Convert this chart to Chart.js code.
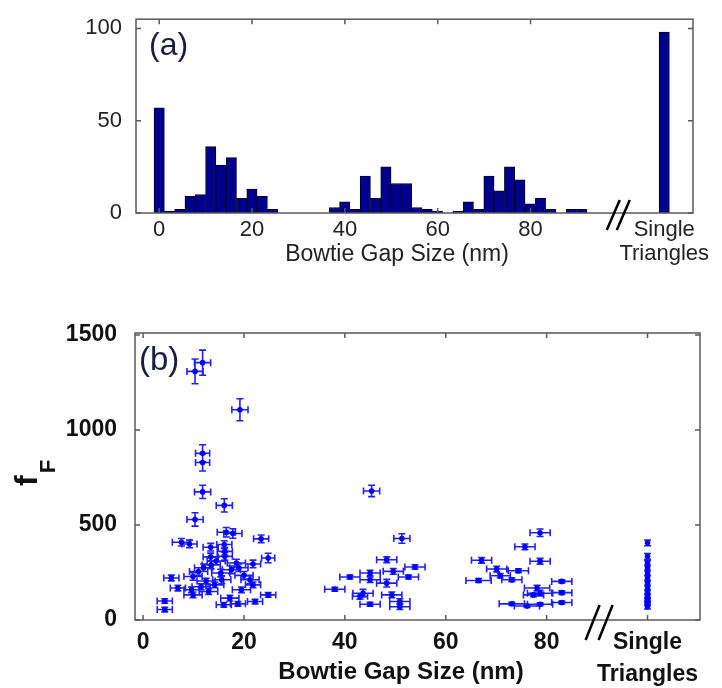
<!DOCTYPE html>
<html>
<head>
<meta charset="utf-8">
<script src="https://cdn.jsdelivr.net/npm/chart.js@4.4.1/dist/chart.umd.min.js"></script>
<style>
    html, body { margin: 0; padding: 0; background: #fff; }
    #wrap { width: 722px; height: 688px; position: relative; }
    canvas { position: absolute; left: 0; }
</style>
</head>
<body>
<div id="wrap">
    <canvas id="histChart" width="722" height="290" style="top:0"></canvas>
    <canvas id="ffChart" width="722" height="398" style="top:290px"></canvas>
</div>
<script>
// (a) histogram of bowtie gap sizes
const binCenters = [0, 2.22, 4.44, 6.66, 8.88, 11.1, 13.32, 15.54, 17.76, 19.98, 22.2, 24.42,
    37.74, 39.96, 42.18, 44.4, 46.62, 48.84, 51.06, 53.28, 55.5, 57.72, 59.94,
    64.38, 66.6, 68.82, 71.04, 73.26, 75.48, 77.7, 79.92, 82.14, 84.36,
    88.8, 91.02, 108.8];
const binCounts = [57, 1, 2, 9, 10, 36, 26, 30, 8, 13, 9, 2,
    3, 6, 2, 20, 8, 25, 16, 16, 3, 2, 1,
    1, 6, 2, 20, 12, 25, 18, 5, 8, 2,
    2, 2, 98];
const histGapTicks = [0, 20, 40, 60, 80, 108.8];
const histCountTicks = [0, 50, 100];

// (b) enhancement factor vs gap size, with error bars
const gapNm = [10.3, 11.8, 19.2, 11.8, 11.8, 11.8, 16.1, 10.3, 16.5, 17.8, 23.4, 7.6, 9.2, 16.1, 13.4, 16.2,
    13.4, 16.2, 24.8, 21.8, 5.6, 9.9, 15.4, 17.5, 15.6, 21.2, 21.8, 6.9, 9.6, 9.9, 14.2, 17.2,
    19.5, 24.8, 22.2, 18.8, 16.0, 4.3, 4.3, 12.0, 13.5, 11.0, 18.5, 20.0, 12.5, 11.5, 13.0, 19.0, 14.5,
    45.3, 51.3, 48.3, 53.9, 49.6, 45.0, 41.0, 52.6, 45.0, 48.3, 38.0, 43.6, 49.3, 45.0, 50.9, 50.9, 43.0,
    78.7, 75.7, 67.1, 78.7, 70.1, 74.4, 70.8, 73.1, 66.5, 83.0, 78.1, 78.7, 83.0, 73.1, 76.1, 78.7, 83.0, 77.4,
    100, 100, 100, 100, 100, 100, 100, 100, 100, 100, 100, 100, 100];
const gapErr = [1.6, 1.6, 1.6, 1.4, 1.4, 1.6, 1.6, 1.6, 1.8, 1.8, 1.5, 1.8, 1.5, 1.5, 1.5, 1.5,
    1.5, 1.5, 1.3, 1.5, 1.5, 1.8, 1.8, 1.8, 1.8, 1.8, 1.5, 1.5, 1.5, 1.8, 1.8, 1.8,
    1.8, 1.5, 1.5, 1.5, 1.5, 1.5, 1.5, 1.8, 1.8, 1.8, 1.8, 1.8, 1.8, 1.8, 1.8, 1.8, 1.8,
    1.6, 1.6, 2, 2, 2, 2, 2, 2, 2, 2, 2, 2, 2, 2, 2, 2, 1.5,
    2, 2, 2, 2, 2, 2, 2, 2, 2.5, 2, 2.5, 2.5, 2, 2.5, 2.5, 2.5, 2, 2,
    0, 0, 0, 0, 0, 0, 0, 0, 0, 0, 0, 0, 0];
const fF = [1308, 1354, 1106, 877, 829, 674, 603, 529, 462, 455, 427, 409, 400, 397, 383, 361,
    332, 335, 326, 295, 221, 229, 247, 264, 212, 212, 185, 168, 159, 132, 185, 115,
    159, 132, 97, 85, 80, 100, 55, 275, 290, 255, 300, 235, 205, 175, 150, 275, 310,
    679, 429, 317, 279, 256, 247, 226, 226, 212, 194, 162, 141, 132, 83, 97, 70, 125,
    459, 385, 314, 309, 268, 259, 233, 212, 208, 203, 168, 141, 144, 85, 74, 83, 92, 132,
    406, 335, 300, 274, 247, 221, 194, 168, 145, 124, 106, 88, 70];
const fFErr = [65, 66, 58, 45, 45, 35, 35, 35, 25, 25, 20, 20, 20, 20, 20, 20,
    20, 20, 25, 20, 15, 20, 20, 20, 20, 20, 15, 15, 15, 15, 15, 15,
    15, 12, 12, 12, 12, 12, 12, 20, 20, 20, 20, 20, 15, 15, 15, 20, 20,
    30, 25, 15, 12, 15, 15, 10, 10, 15, 20, 10, 20, 15, 10, 15, 15, 15,
    20, 15, 15, 15, 15, 10, 12, 10, 10, 8, 15, 15, 10, 8, 8, 8, 8, 10,
    15, 15, 12, 12, 12, 12, 12, 12, 12, 12, 12, 12, 12];
const ffGapTicks = [0, 20, 40, 60, 80, 100];
const ffTicks = [0, 500, 1000, 1500];
const singleLabel = ['Single', 'Triangles'];

const FONT = '"Liberation Sans", Arial, Helvetica, sans-serif';

// box around the plot with inward ticks, the axis break and free text
const frame = {
    id: 'frame',
    afterDraw(chart, args, opts) {
        const { ctx, chartArea: a, scales } = chart;
        ctx.save();
        ctx.strokeStyle = '#5a5a5a';
        ctx.lineWidth = 1.5;
        ctx.strokeRect(a.left, a.top, a.right - a.left, a.bottom - a.top);

        ctx.beginPath();
        scales.x.ticks.forEach(t => {
            if (opts.skipX && opts.skipX.includes(t.value)) return;
            const px = scales.x.getPixelForValue(t.value);
            ctx.moveTo(px, a.bottom); ctx.lineTo(px, a.bottom - 5);
            ctx.moveTo(px, a.top); ctx.lineTo(px, a.top + 5);
        });
        scales.y.ticks.forEach(t => {
            const py = scales.y.getPixelForValue(t.value);
            ctx.moveTo(a.left, py); ctx.lineTo(a.left + 5, py);
            ctx.moveTo(a.right, py); ctx.lineTo(a.right - 5, py);
        });
        ctx.stroke();

        // "//" axis break
        const bx = scales.x.getPixelForValue(opts.breakAt);
        const by = a.bottom + opts.breakDy;
        ctx.strokeStyle = '#000';
        ctx.lineWidth = 2.5;
        ctx.beginPath();
        [-opts.breakGap / 2, opts.breakGap / 2].forEach(dx => {
            ctx.moveTo(bx + dx - opts.breakW / 2, by + opts.breakH / 2);
            ctx.lineTo(bx + dx + opts.breakW / 2, by - opts.breakH / 2);
        });
        ctx.stroke();

        opts.texts.forEach(t => {
            ctx.font = t.font;
            ctx.textAlign = t.align || 'left';
            ctx.textBaseline = t.baseline || 'alphabetic';
            ctx.fillStyle = t.color || '#111';
            ctx.fillText(t.text, t.x, t.y);
        });
        if (opts.yTitle) {
            const yt = opts.yTitle;
            ctx.translate(yt.x, yt.y);
            ctx.rotate(-Math.PI / 2);
            ctx.textAlign = 'left';
            ctx.textBaseline = 'alphabetic';
            ctx.fillStyle = '#111';
            ctx.font = 'bold 32px ' + FONT;
            ctx.fillText('f', 0, 0);
            const w = ctx.measureText('f').width;
            ctx.font = 'bold 22px ' + FONT;
            ctx.fillText('F', w + 2, 18);
        }
        ctx.restore();
    }
};

const errorBars = {
    id: 'errorBars',
    beforeDatasetsDraw(chart) {
        const { ctx, scales: { x, y } } = chart;
        const cap = 3.5;
        ctx.save();
        ctx.strokeStyle = '#2020ff';
        ctx.lineWidth = 1.6;
        ctx.beginPath();
        gapNm.forEach((g, i) => {
            const px = x.getPixelForValue(g);
            const py = y.getPixelForValue(fF[i]);
            const x0 = x.getPixelForValue(g - gapErr[i]);
            const x1 = x.getPixelForValue(g + gapErr[i]);
            const y0 = y.getPixelForValue(fF[i] - fFErr[i]);
            const y1 = y.getPixelForValue(fF[i] + fFErr[i]);
            if (gapErr[i] > 0) {
                ctx.moveTo(x0, py); ctx.lineTo(x1, py);
                ctx.moveTo(x0, py - cap); ctx.lineTo(x0, py + cap);
                ctx.moveTo(x1, py - cap); ctx.lineTo(x1, py + cap);
            }
            ctx.moveTo(px, y0); ctx.lineTo(px, y1);
            ctx.moveTo(px - cap, y0); ctx.lineTo(px + cap, y0);
            ctx.moveTo(px - cap, y1); ctx.lineTo(px + cap, y1);
        });
        ctx.stroke();
        ctx.restore();
    }
};

new Chart(document.getElementById('histChart'), {
    type: 'bar',
    data: {
        datasets: [{
            data: binCenters.map((x, i) => ({ x: x, y: binCounts[i] })),
            backgroundColor: '#00008c',
            borderColor: '#00002a',
            borderWidth: 1,
            barPercentage: 1,
            categoryPercentage: 1
        }]
    },
    options: {
        responsive: false,
        animation: false,
        layout: { padding: { left: 16, right: 29, top: 17, bottom: 0 } },
        plugins: {
            legend: { display: false },
            tooltip: { enabled: false },
            frame: {
                skipX: [108.8],
                breakAt: 98.9, breakDy: 2, breakW: 13, breakH: 30, breakGap: 10,
                texts: [
                    { text: '(a)', x: 149, y: 55, font: '32px ' + FONT, color: '#1c1c40' },
                    { text: 'Bowtie Gap Size (nm)', x: 397, y: 255, font: '23px ' + FONT, align: 'center', baseline: 'middle', color: '#222' }
                ]
            }
        },
        scales: {
            x: {
                type: 'linear',
                offset: false,
                min: -5,
                max: 115,
                grid: { display: false, offset: false },
                border: { display: false },
                afterBuildTicks: s => { s.ticks = histGapTicks.map(v => ({ value: v })); },
                afterFit: s => { s.height = 77; },
                ticks: {
                    autoSkip: false,
                    maxRotation: 0,
                    padding: -3.5,
                    color: '#222',
                    font: { family: FONT, size: 22, lineHeight: 24 / 22 },
                    callback: v => v === 108.8 ? singleLabel : String(v)
                }
            },
            y: {
                min: 0,
                max: 105,
                grid: { display: false },
                border: { display: false },
                afterBuildTicks: s => { s.ticks = histCountTicks.map(v => ({ value: v })); },
                afterFit: s => { s.width = 120; },
                ticks: {
                    padding: 6,
                    color: '#222',
                    font: { family: FONT, size: 22 },
                    callback: v => String(v)
                }
            }
        }
    },
    plugins: [frame]
});

new Chart(document.getElementById('ffChart'), {
    type: 'scatter',
    data: {
        datasets: [{
            data: gapNm.map((g, i) => ({ x: g, y: fF[i] })),
            pointRadius: 2.8,
            pointBackgroundColor: '#0000ff',
            pointBorderColor: '#0000ff',
            pointBorderWidth: 0
        }]
    },
    options: {
        responsive: false,
        animation: false,
        layout: { padding: { left: 15, right: 22, top: 43, bottom: 0 } },
        plugins: {
            legend: { display: false },
            tooltip: { enabled: false },
            frame: {
                breakAt: 90.4, breakDy: 2.5, breakW: 14, breakH: 35, breakGap: 13,
                texts: [
                    { text: '(b)', x: 139, y: 80, font: '33px ' + FONT, color: '#1c1c40' },
                    { text: 'Bowtie Gap Size (nm)', x: 401, y: 382, font: 'bold 24px ' + FONT, align: 'center', baseline: 'middle', color: '#111' }
                ],
                yTitle: { x: 37, y: 196 }
            }
        },
        scales: {
            x: {
                type: 'linear',
                min: -1.6,
                max: 110.4,
                grid: { display: false },
                border: { display: false },
                afterBuildTicks: s => { s.ticks = ffGapTicks.map(v => ({ value: v })); },
                afterFit: s => { s.height = 68; },
                ticks: {
                    autoSkip: false,
                    maxRotation: 0,
                    padding: -1.5,
                    color: '#111',
                    font: { family: FONT, size: 23, weight: 'bold', lineHeight: 32 / 23 },
                    callback: v => v === 100 ? singleLabel : String(v)
                }
            },
            y: {
                min: 0,
                max: 1510,
                grid: { display: false },
                border: { display: false },
                afterBuildTicks: s => { s.ticks = ffTicks.map(v => ({ value: v })); },
                afterFit: s => { s.width = 120; },
                ticks: {
                    padding: 10,
                    color: '#111',
                    font: { family: FONT, size: 23, weight: 'bold' },
                    callback: v => String(v)
                }
            }
        }
    },
    plugins: [frame, errorBars]
});
</script>
</body>
</html>
